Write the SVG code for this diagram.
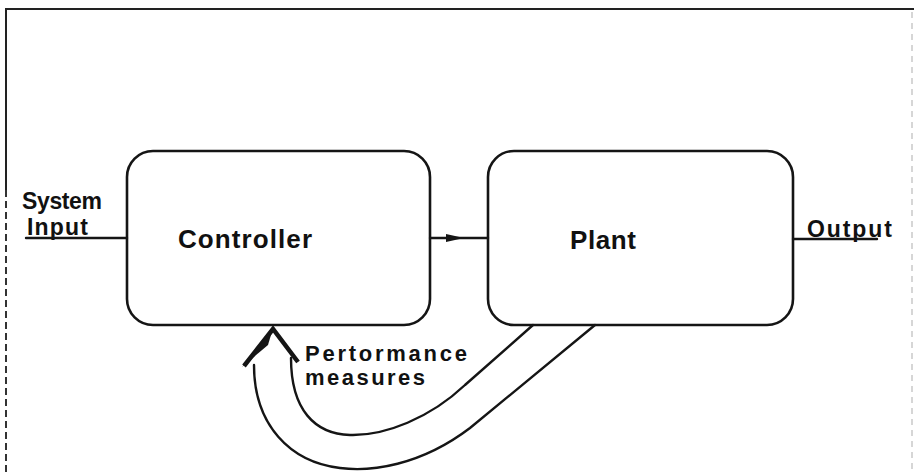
<svg xmlns="http://www.w3.org/2000/svg" width="914" height="472" viewBox="0 0 914 472">
<style>
.ln{fill:none;stroke:#151515;stroke-width:2.4;stroke-linecap:round;stroke-linejoin:round}
.box{fill:none;stroke:#151515;stroke-width:2.6}
.t{font-family:"Liberation Sans","DejaVu Sans",sans-serif;fill:#111;font-weight:bold}
</style>
<rect width="914" height="472" fill="#ffffff"/>
<g id="frame">
<path d="M6,190 V9 H914" fill="none" stroke="#222" stroke-width="2"/>
<path d="M6,190 V472" fill="none" stroke="#333" stroke-width="2" stroke-dasharray="7 4"/>
<path d="M912,12 V472" fill="none" stroke="#bbb" stroke-width="1.2" stroke-dasharray="6 5"/>
</g>
<g id="controller">
<rect class="box" x="127" y="151" width="303" height="174" rx="26"/>
<text class="t" x="178" y="248" font-size="26" textLength="134" lengthAdjust="spacing">Controller</text>
</g>
<g id="plant">
<rect class="box" x="488" y="151" width="305" height="174" rx="26"/>
<text class="t" x="570" y="249" font-size="26" textLength="66" lengthAdjust="spacing">Plant</text>
</g>
<g id="system-input">
<text class="t" x="22" y="209" font-size="23" textLength="80" lengthAdjust="spacing">System</text>
<text class="t" x="27" y="235" font-size="23" textLength="61" lengthAdjust="spacing">Input</text>
</g>
<g id="output">
<text class="t" x="807" y="237" font-size="23" textLength="85" lengthAdjust="spacing">Output</text>
</g>
<g id="performance-measures">
<text class="t" x="305" y="361" font-size="22" textLength="162" lengthAdjust="spacing">Pertormance</text>
<text class="t" x="305" y="385" font-size="22" textLength="120" lengthAdjust="spacing">measures</text>
</g>
<g id="connectors">
<path class="ln" d="M26,238 H127"/>
<path class="ln" d="M430,238 H488"/>
<polygon points="446,234 464,238 446,242" fill="#151515"/>
<path class="ln" d="M793,239 H877"/>
<path class="ln" d="M533,325 L465,385 C430,418 385,436 350,435 C315,434 291,410 291,358"/>
<path class="ln" d="M595,325 L470,428 C420,466 370,472 340,468 C290,462 254,425 254,365"/>
<path d="M244,366 L273,329 L298,362" fill="none" stroke="#151515" stroke-width="4.5" stroke-linejoin="miter"/>
<polygon points="242,367 273,328 268,345" fill="#151515"/>
</g>
</svg>
